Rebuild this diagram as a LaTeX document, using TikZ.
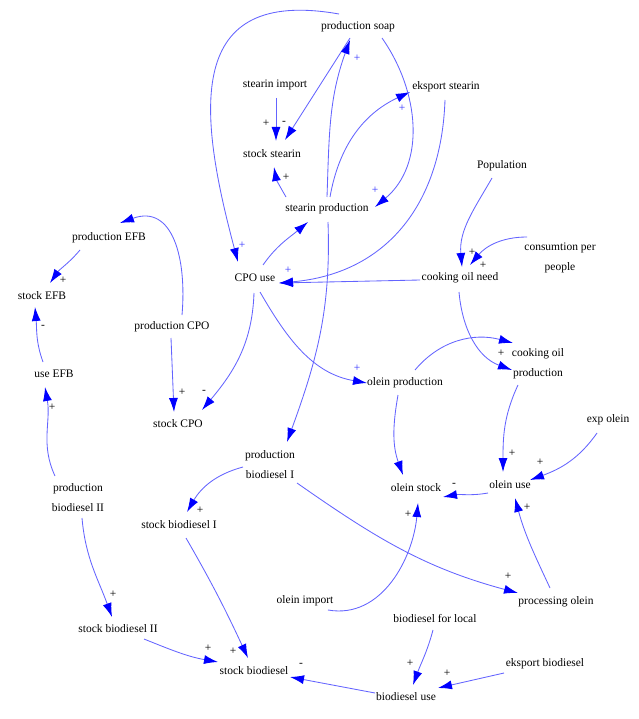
\documentclass[tikz,border=0pt]{standalone}
\usepackage{fontspec}
\setmainfont{Liberation Serif}
\usetikzlibrary{arrows.meta,calc}
\definecolor{linkblue}{RGB}{100,100,255}
\definecolor{tipblue}{RGB}{0,0,255}
\definecolor{signblue}{RGB}{50,50,255}
\tikzset{
  var/.style={inner sep=1pt, align=center, font=\fontsize{11.5}{20}\selectfont},
  link/.style={draw=linkblue, line width=0.85pt, -{Latex[length=14pt,width=9pt,color=tipblue]}},
  sgn/.style={inner sep=0pt, font=\fontsize{11.5}{12}\selectfont},
  bsgn/.style={sgn, text=signblue}
}
\begin{document}
\begin{tikzpicture}[x=1pt,y=1pt]
      \useasboundingbox (0,0) rectangle (638,-719);

      \node[var] (soap) at (358,-27) {production soap};
      \node[var] (simport) at (275,-85) {stearin import};
      \node[var] (estearin) at (446,-87) {eksport stearin};
      \node[var] (sstearin) at (272,-154) {stock stearin};
      \node[var] (sprod) at (327,-209) {stearin production};
      \node[var] (pop) at (502,-166) {Population};
      \node[var] (cons) at (560,-258) {consumtion per\\people};
      \node[var] (coneed) at (460,-278) {cooking oil need};
      \node[var] (coprod) at (538,-364) {cooking oil\\production};
      \node[var] (oprod) at (405,-383) {olein production};
      \node[var] (expolein) at (608,-420) {exp olein};
      \node[var] (pefb) at (109,-238) {production EFB};
      \node[var] (cpouse) at (255,-278) {CPO use};
      \node[var] (sefb) at (42,-296) {stock EFB};
      \node[var] (pcpo) at (172,-327) {production CPO};
      \node[var] (uefb) at (54,-374) {use EFB};
      \node[var] (scpo) at (178,-424) {stock CPO};
      \node[var] (pbio1) at (270,-465) {production\\biodiesel I};
      \node[var] (pbio2) at (78,-498) {production\\biodiesel II};
      \node[var] (sbio1) at (179,-525) {stock biodiesel I};
      \node[var] (sbio2) at (118,-629) {stock biodiesel II};
      \node[var] (sbio) at (254,-671) {stock biodiesel};
      \node[var] (oimport) at (305,-601) {olein import};
      \node[var] (ostock) at (416,-488) {olein stock};
      \node[var] (ouse) at (510,-485) {olein use};
      \node[var] (procolein) at (556,-602) {processing olein};
      \node[var] (biolocal) at (435,-618) {biodiesel for local};
      \node[var] (ebio) at (545,-664) {eksport biodiesel};
      \node[var] (biouse) at (406,-697) {biodiesel use};

      \draw[link] ($(simport)+(1,-13)$) -- ($(sstearin)+(4,13)$);
      \draw[link] ($(soap)+(-8,-11)$) -- ($(sstearin)+(13,14)$);
      \draw[link] ($(sprod)+(-41,12)$) to[out=120,in=-80] ($(sstearin)+(2,-13)$);
      \draw[link] ($(sprod)+(0,12)$) to[out=88,in=-110] ($(soap)+(-8,-13)$);
      \draw[link] ($(sprod)+(3,12)$) to[out=80,in=-155] ($(estearin)+(-36,-5)$);
      \draw[link] ($(soap)+(24,-11)$) to[out=-55,in=40] ($(sprod)+(48,2)$);
      \draw[link] ($(soap)+(-19,13)$) to[out=170,in=105,looseness=1.5] ($(cpouse)+(-17,16)$);
      \draw[link] ($(estearin)+(-1,-13)$) to[out=-92,in=5,looseness=1.1] ($(cpouse)+(24,-5)$);
      \draw[link] ($(coneed)+(-40,-2)$) -- ($(cpouse)+(24,-5)$);
      \draw[link] ($(cpouse)+(8,13)$) to[out=55,in=-140] ($(sprod)+(-19,-13)$);
      \draw[link] ($(sprod)+(1,-13)$) to[out=-88,in=70] ($(pbio1)+(17,23)$);
      \draw[link] ($(cpouse)+(5,-14)$) to[out=-60,in=170] ($(oprod)+(-38,0)$);
      \draw[link] ($(cpouse)+(-1,-15)$) to[out=-92,in=50] ($(scpo)+(24,14)$);
      \draw[link] ($(pcpo)+(-1,-11)$) -- ($(scpo)+(-4,12)$);
      \draw[link] ($(pcpo)+(10,12)$) to[out=85,in=20,looseness=1.3] ($(pefb)+(11,15)$);
      \draw[link] ($(pefb)+(-29,-12)$) to[out=-130,in=55] ($(sefb)+(8,13)$);
      \draw[link] ($(uefb)+(-11,12)$) to[out=110,in=-85] ($(sefb)+(-7,-11)$);
      \draw[link] ($(pbio2)+(-23,22)$) to[out=115,in=-80] ($(uefb)+(-9,-13)$);
      \draw[link] ($(pbio2)+(4,-20)$) to[out=-85,in=110] ($(sbio2)+(-6,12)$);
      \draw[link] ($(pbio1)+(-27,-2)$) to[out=-165,in=60] ($(sbio1)+(8,13)$);
      \draw[link] ($(pbio1)+(27,-18)$) to[out=-35,in=165] ($(procolein)+(-38,9)$);
      \draw[link] ($(sbio1)+(7,-13)$) to[out=-60,in=115] ($(sbio)+(-6,13)$);
      \draw[link] ($(sbio2)+(26,-10)$) to[out=-22,in=170] ($(sbio)+(-36,9)$);
      \draw[link] ($(biouse)+(-31,4)$) -- ($(sbio)+(36,-6)$);
      \draw[link] ($(biolocal)+(-2,-12)$) to[out=-105,in=70] ($(biouse)+(7,12)$);
      \draw[link] ($(ebio)+(-41,-9)$) -- ($(biouse)+(32,9)$);
      \draw[link] ($(oimport)+(23,-9)$) to[out=-10,in=-95] ($(ostock)+(2,-15)$);
      \draw[link] ($(ouse)+(-22,-8)$) to[out=-170,in=10] ($(ostock)+(27,-9)$);
      \draw[link] ($(procolein)+(-6,14)$) to[out=115,in=-75] ($(ouse)+(5,-13)$);
      \draw[link] ($(expolein)+(-11,-13)$) to[out=-125,in=20] ($(ouse)+(20,5)$);
      \draw[link] ($(coprod)+(-20,-21)$) to[out=-115,in=90] ($(ouse)+(-7,13)$);
      \draw[link] ($(oprod)+(-7,-12)$) to[out=-100,in=110] ($(ostock)+(-13,13)$);
      \draw[link] ($(oprod)+(10,13)$) to[out=50,in=165] ($(coprod)+(-25,21)$);
      \draw[link] ($(coneed)+(-1,-14)$) to[out=-85,in=160] ($(coprod)+(-26,-6)$);
      \draw[link] ($(pop)+(-10,-12)$) to[out=-120,in=95] ($(coneed)+(2,11)$);
      \draw[link] ($(cons)+(-33,21)$) to[out=180,in=50] ($(coneed)+(10,13)$);

      \node[bsgn] (sg1) at (357,-58) {+};
      \node[bsgn] (sg2) at (402,-108) {+};
      \node[bsgn] (sg3) at (375,-190) {+};
      \node[bsgn] (sg4) at (242,-245) {+};
      \node[bsgn] (sg5) at (288,-270) {+};
      \node[bsgn] (sg6) at (357,-368) {+};
      \node[sgn] (sg7) at (266,-123) {+};
      \node[sgn] (sg8) at (284,-123) {-};
      \node[sgn] (sg9) at (286,-177) {+};
      \node[sgn] (sg10) at (182,-392) {+};
      \node[sgn] (sg11) at (204,-392) {-};
      \node[sgn] (sg12) at (63,-280) {+};
      \node[sgn] (sg13) at (43,-327) {-};
      \node[sgn] (sg14) at (52,-407) {+};
      \node[sgn] (sg15) at (113,-594) {+};
      \node[sgn] (sg16) at (200,-510) {+};
      \node[sgn] (sg17) at (508,-576) {+};
      \node[sgn] (sg18) at (233,-651) {+};
      \node[sgn] (sg19) at (208,-648) {+};
      \node[sgn] (sg20) at (301,-665) {-};
      \node[sgn] (sg21) at (410,-663) {+};
      \node[sgn] (sg22) at (447,-673) {+};
      \node[sgn] (sg23) at (408,-514) {+};
      \node[sgn] (sg24) at (454,-485) {-};
      \node[sgn] (sg25) at (527,-507) {+};
      \node[sgn] (sg26) at (540,-462) {+};
      \node[sgn] (sg27) at (512,-453) {+};
      \node[sgn] (sg28) at (501,-353) {+};
      \node[sgn] (sg29) at (472,-252) {+};
      \node[sgn] (sg30) at (483,-265) {+};
\end{tikzpicture}
\end{document}
